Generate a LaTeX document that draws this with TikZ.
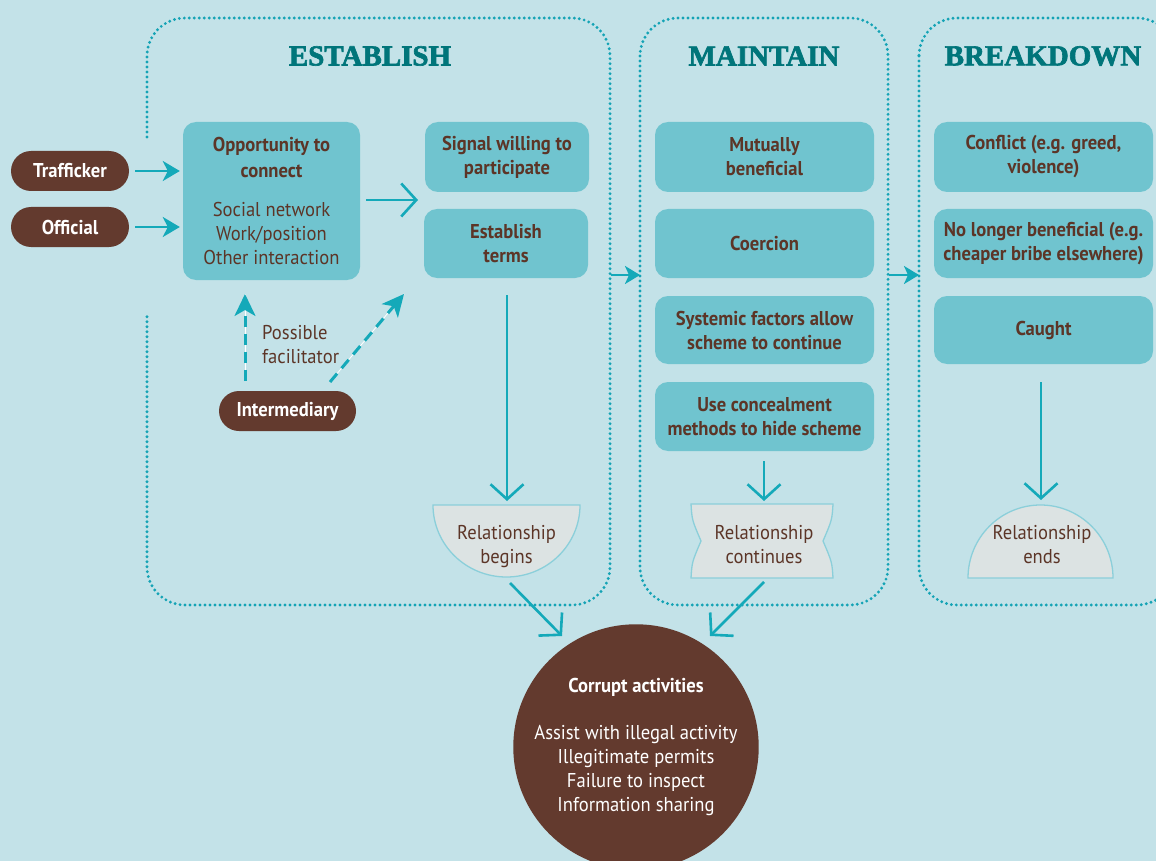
\documentclass[tikz,border=0pt]{standalone}
\usepackage{fontspec}
\setmainfont{PT Sans}[FakeStretch=0.93]
\newfontfamily\titlefont{Liberation Serif}[FakeBold=2.2]
\usetikzlibrary{arrows.meta}
\definecolor{bg}{HTML}{C3E2E8}
\definecolor{boxfill}{HTML}{70C4CF}
\definecolor{txtbrown}{HTML}{5C3527}
\definecolor{pillbrown}{HTML}{633A2E}
\definecolor{titcol}{HTML}{00757A}
\definecolor{dotcol}{HTML}{14A3B5}
\definecolor{arrcol}{HTML}{14A9B9}
\definecolor{relfill}{HTML}{DCE3E3}
\definecolor{relline}{HTML}{8BCFDA}
\begin{document}
\begin{tikzpicture}[x=1pt,y=-1pt,
  box/.style={rectangle, rounded corners=13pt, fill=boxfill, text=txtbrown, font=\bfseries\fontsize{20}{24}\selectfont, align=center, minimum width=219pt, minimum height=70pt, inner sep=0pt},
  pill/.style={rectangle, rounded corners=20pt, fill=pillbrown, text=white, font=\bfseries\fontsize{20}{24}\selectfont, minimum width=118pt, minimum height=40pt, inner sep=0pt},
  title/.style={font=\titlefont\bfseries\fontsize{29}{29}\selectfont, text=titcol, inner sep=0pt},
  plain/.style={font=\fontsize{20}{24}\selectfont, text=txtbrown, align=center, inner sep=0pt},
  dotbox/.style={draw=dotcol, line width=3.2pt, dash pattern=on 0pt off 5pt, line cap=round, rounded corners=38pt},
  fillarrow/.style={draw=arrcol, line width=2.6pt, -{Stealth[length=17pt,width=20pt,inset=5pt]}},
  openarrow/.style={draw=arrcol, line width=2.6pt, -{Straight Barb[length=15pt,width=33pt]}},
  dasharrow/.style={draw=arrcol, line width=3pt, dash pattern=on 11pt off 7pt, -{Stealth[length=22pt,width=21pt,inset=6pt]}},
  relshape/.style={fill=relfill, draw=relline, line width=1.3pt}
]
\useasboundingbox (0,0) rectangle (1156,861);
\clip (0,0) rectangle (1156,861);
\fill[bg] (0,0) rectangle (1156,861);

% phase frames
\draw[dotbox] (147,137) -- (147,18) -- (610,18) -- (610,605) -- (147,605) -- (147,315);
\draw[dotbox] (640,18) rectangle (888,605);
\draw[dotbox] (919,18) rectangle (1175,605);

% titles
\node[title] (tEst) at (370,56) {ESTABLISH};
\node[title] (tMai) at (764,56) {MAINTAIN};
\node[title] (tBrk) at (1043,56) {BREAKDOWN};

% actors
\node[pill] (traf) at (70,171) {Trafficker};
\node[pill] (off) at (70,227) {Official};
\node[pill, minimum width=137pt] (inter) at (287.5,411) {Intermediary};

% establish boxes
\node[box, minimum width=177pt, minimum height=158pt] (opp) at (271.5,201)
  {\textbf{Opportunity to}\\[2pt]\textbf{connect}\\[15pt]\mdseries Social network\\\mdseries Work/position\\\mdseries Other interaction};
\node[box, minimum width=164pt] (sig) at (507,157) {Signal willing to\\participate};
\node[box, minimum width=164pt, minimum height=69pt] (est) at (506,243.5) {Establish\\terms};

% maintain boxes
\node[box] (mut) at (764.5,157) {Mutually\\beneficial};
\node[box, minimum height=69pt] (coe) at (764.5,243.5) {Coercion};
\node[box, minimum height=68pt] (sys) at (764.5,330) {Systemic factors allow\\scheme to continue};
\node[box, minimum height=69pt] (use) at (764.5,416.5) {Use concealment\\methods to hide scheme};

% breakdown boxes
\node[box] (con) at (1043.5,157) {Conflict (e.g. greed,\\violence)};
\node[box, minimum height=69pt] (nol) at (1043.5,243.5) {No longer beneficial (e.g.\\cheaper bribe elsewhere)};
\node[box, minimum height=68pt] (cau) at (1043.5,330) {Caught};

% relationship shapes
\draw[relshape] (433,505) -- (580,505) arc[start angle=0, end angle=180, x radius=73.5, y radius=72] -- cycle;
\node[plain] (relb) at (506.5,547) {Relationship\\begins};

\draw[relshape] (691,504) -- (833,504) .. controls (832,520) .. (823,541) .. controls (832,562) .. (833,578)
  -- (691,578) .. controls (692,562) .. (701,541) .. controls (692,520) .. cycle;
\node[plain] (relc) at (764,545) {Relationship\\continues};

\draw[relshape] (968,578) arc[start angle=180, end angle=360, x radius=72.5, y radius=73] -- cycle;
\node[plain] (rele) at (1042,545) {Relationship\\ends};

% corrupt activities
\node[circle, fill=pillbrown, minimum size=242pt, inner sep=0pt, text=white, align=center,
  font=\fontsize{20}{24}\selectfont] (corr) at (636,747)
  {\textbf{Corrupt activities}\\[23pt]Assist with illegal activity\\Illegitimate permits\\Failure to inspect\\Information sharing};

\node[plain, align=left, anchor=west] (fac) at (262,345) {Possible\\facilitator};

% coordinates for connector ends
\coordinate (split) at (418,200);
\coordinate (relbT) at (507,501);
\coordinate (relbB) at (510,583);
\coordinate (relcT) at (764,501);
\coordinate (relcB) at (764,582);
\coordinate (releT) at (1041,500);
\coordinate (corrNW) at (562,636);
\coordinate (corrNE) at (710,636);
\coordinate (estR) at (611,275);
\coordinate (maiL) at (640,275);
\coordinate (maiR) at (889,275);
\coordinate (brkL) at (919,275);
\coordinate (interA) at (245,381);
\coordinate (interB) at (330,382);
\coordinate (oppS) at (245,294);
\coordinate (midT) at (404,294);

% connectors
\draw[fillarrow, shorten <=6pt, shorten >=3pt] (traf.east) -- (traf.east -| opp.west);
\draw[fillarrow, shorten <=6pt, shorten >=3pt] (off.east) -- (off.east -| opp.west);
\draw[openarrow, shorten <=6pt] (opp.east |- split) -- (split);
\draw[openarrow, shorten <=17pt] (est.south -| relbT) -- (relbT);
\draw[openarrow, shorten <=10pt] (use.south -| relcT) -- (relcT);
\draw[openarrow, shorten <=18pt] (cau.south -| releT) -- (releT);
\draw[openarrow] (relbB) -- (corrNW);
\draw[openarrow] (relcB) -- (corrNE);
\draw[fillarrow, -{Stealth[length=15pt,width=18pt,inset=4pt]}] (estR) -- (maiL);
\draw[fillarrow, -{Stealth[length=15pt,width=18pt,inset=4pt]}] (maiR) -- (brkL);
\draw[white, line width=0.8pt] (interA) -- (oppS);
\draw[white, line width=0.8pt] (interB) -- (midT);
\draw[dasharrow] (interA) -- (oppS);
\draw[dasharrow] (interB) -- (midT);
\end{tikzpicture}
\end{document}
